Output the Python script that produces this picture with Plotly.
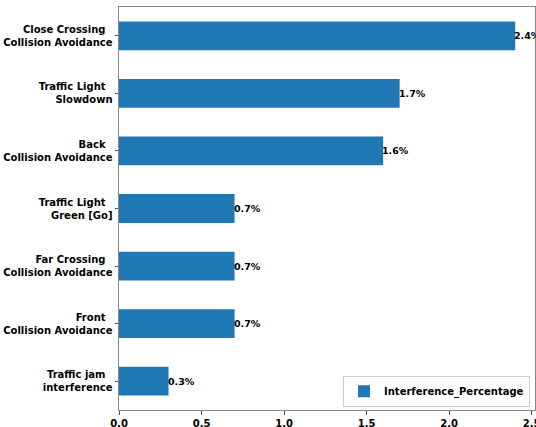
import plotly.graph_objects as go

categories = [
    "Close Crossing \u00a0<br>Collision Avoidance",
    "Traffic Light \u00a0<br>Slowdown",
    "Back \u00a0<br>Collision Avoidance",
    "Traffic Light \u00a0<br>Green [Go]",
    "Far Crossing \u00a0<br>Collision Avoidance",
    "Front \u00a0<br>Collision Avoidance",
    "Traffic jam \u00a0<br>interference",
]
values = [2.4, 1.7, 1.6, 0.7, 0.7, 0.7, 0.3]
labels = ["2.4%", "1.7%", "1.6%", "0.7%", "0.7%", "0.7%", "0.3%"]
x_ticks = [0.0, 0.5, 1.0, 1.5, 2.0, 2.5]

font_bold = dict(family="DejaVu Sans", size=10, color="black", weight="bold")
font_lbl = dict(family="DejaVu Sans", size=9.5, color="black", weight="bold")

fig = go.Figure()
fig.add_trace(go.Bar(
    x=values, y=categories, orientation="h",
    width=0.5, marker=dict(color="#1f77b4", line=dict(width=0)),
    name="Interference_Percentage",
))

for v, c, t in zip(values, categories, labels):
    fig.add_annotation(x=v, y=c, text=t, showarrow=False, xanchor="left",
                       yanchor="middle", xshift=-3, font=font_lbl)

fig.update_layout(
    template="none",
    width=536, height=427,
    margin=dict(l=119, r=1, t=7, b=17, autoexpand=False),
    paper_bgcolor="white", plot_bgcolor="white",
    font=font_bold,
    showlegend=True,
    legend=dict(x=0.988, y=0.008, xanchor="right", yanchor="bottom",
                bgcolor="white", bordercolor="#cccccc", borderwidth=1,
                font=font_bold, itemwidth=30),
)
fig.update_xaxes(
    automargin=False, ticklabeloverflow="allow",
    range=[0, 2.52], tickvals=x_ticks, ticktext=[f"{t:.1f}" for t in x_ticks],
    showgrid=False, zeroline=False, ticks="outside", ticklen=3.5,
    tickcolor="#555", showline=True, linecolor="#888", linewidth=1, mirror=True,
    tickfont=font_bold,
)
fig.update_yaxes(
    automargin=False, ticklabeloverflow="allow",
    categoryorder="array", categoryarray=categories[::-1],
    range=[-0.5, 6.5], showgrid=False, zeroline=False, ticks="outside",
    ticklen=3.5, tickcolor="#555", showline=True, linecolor="#888",
    linewidth=1, mirror=True, tickfont=font_bold,
)

fig.write_html("out.html", config={"displayModeBar": False},
               post_script="document.body.style.margin='0';document.body.style.overflow='hidden';")
